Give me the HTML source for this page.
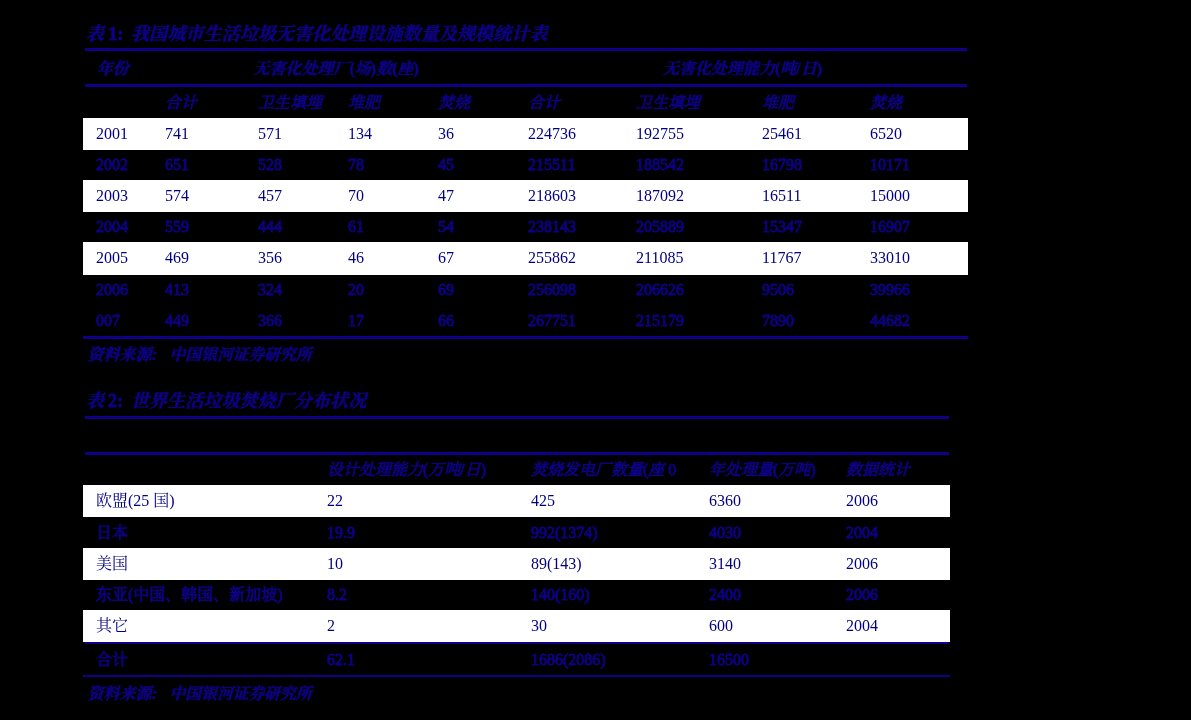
<!DOCTYPE html>
<html lang="zh-CN">
<head>
<meta charset="utf-8">
<title>表 1 / 表 2</title>
<style>
html,body{margin:0;padding:0;background:#000;}
body{width:1191px;height:720px;position:relative;overflow:hidden;
  font-family:"Liberation Serif","Noto Serif CJK SC",serif;font-size:16px;color:#0e0088;}
#page{position:absolute;left:0;top:0;width:1191px;height:720px;will-change:transform;}
.ci{font-style:italic;}
.rule{position:absolute;background:#100088;}
.row{position:absolute;left:83px;height:31px;line-height:31px;white-space:nowrap;}
.row.w{background:#fff;color:#000080;}
.row.d{-webkit-text-stroke:.8px #0e0088;}
.row>span{position:absolute;top:0;}
.t .n{-webkit-text-stroke-width:.8px;}
.t{position:absolute;white-space:nowrap;font-weight:bold;-webkit-text-stroke:.5px #0e0088;}
.a .c0{left:13px}.a .c1{left:82px}.a .c2{left:175px}.a .c3{left:265px}.a .c4{left:355px}
.a .c5{left:445px}.a .c6{left:553px}.a .c7{left:679px}.a .c8{left:787px}
.b .c0{left:13px}.b .c1{left:244px}.b .c2{left:448px}.b .c3{left:626px}.b .c4{left:763px}
</style>
</head>
<body>
<main id="page">
<!-- Table 1 -->
<div class="t" style="left:86px;top:22.5px;font-size:18px;line-height:22px;"><span class="ci">表</span><span class="n" style="margin-left:4.3px">1:</span><span style="margin-left:7.7px;font-size:18.12px"><span class="ci">我国城市生活垃圾无害化处理设施数量及规模统计表</span></span></div>
<div class="rule" style="left:85px;top:48px;width:882px;height:3px;"></div>
<div class="t" style="left:96.7px;top:58px;font-size:16px;line-height:22px;"><span class="ci">年份</span></div>
<div class="t" style="left:253.5px;top:58px;font-size:16px;line-height:22px;"><span class="ci">无害化处理厂</span>(<span class="ci">场</span>)<span class="ci">数</span>(<span class="ci">座</span>)</div>
<div class="t" style="left:663px;top:58px;font-size:16px;line-height:22px;"><span class="ci">无害化处理能力</span>(<span class="ci">吨</span>/<span class="ci">日</span>)</div>
<div class="rule" style="left:85px;top:84px;width:882px;height:3px;"></div>
<div class="row a d" style="top:87px;width:885px;height:31px;line-height:31px;"><span class="c1"><span class="ci">合计</span></span><span class="c2"><span class="ci">卫生填埋</span></span><span class="c3"><span class="ci">堆肥</span></span><span class="c4"><span class="ci">焚烧</span></span><span class="c5"><span class="ci">合计</span></span><span class="c6"><span class="ci">卫生填埋</span></span><span class="c7"><span class="ci">堆肥</span></span><span class="c8"><span class="ci">焚烧</span></span></div>
<div class="row a w" style="top:118px;width:885px;height:32px;line-height:32px;"><span class="c0">2001</span><span class="c1">741</span><span class="c2">571</span><span class="c3">134</span><span class="c4">36</span><span class="c5">224736</span><span class="c6">192755</span><span class="c7">25461</span><span class="c8">6520</span></div>
<div class="row a d" style="top:150px;width:885px;height:30px;line-height:30px;"><span class="c0">2002</span><span class="c1">651</span><span class="c2">528</span><span class="c3">78</span><span class="c4">45</span><span class="c5">215511</span><span class="c6">188542</span><span class="c7">16798</span><span class="c8">10171</span></div>
<div class="row a w" style="top:180px;width:885px;height:32px;line-height:32px;"><span class="c0">2003</span><span class="c1">574</span><span class="c2">457</span><span class="c3">70</span><span class="c4">47</span><span class="c5">218603</span><span class="c6">187092</span><span class="c7">16511</span><span class="c8">15000</span></div>
<div class="row a d" style="top:212px;width:885px;height:30px;line-height:30px;"><span class="c0">2004</span><span class="c1">559</span><span class="c2">444</span><span class="c3">61</span><span class="c4">54</span><span class="c5">238143</span><span class="c6">205889</span><span class="c7">15347</span><span class="c8">16907</span></div>
<div class="row a w" style="top:242px;width:885px;height:33px;line-height:32px;"><span class="c0">2005</span><span class="c1">469</span><span class="c2">356</span><span class="c3">46</span><span class="c4">67</span><span class="c5">255862</span><span class="c6">211085</span><span class="c7">11767</span><span class="c8">33010</span></div>
<div class="row a d" style="top:274px;width:885px;height:31px;line-height:31px;"><span class="c0">2006</span><span class="c1">413</span><span class="c2">324</span><span class="c3">20</span><span class="c4">69</span><span class="c5">256098</span><span class="c6">206626</span><span class="c7">9506</span><span class="c8">39966</span></div>
<div class="row a d" style="top:305px;width:885px;height:31px;line-height:31px;"><span class="c0">007</span><span class="c1">449</span><span class="c2">366</span><span class="c3">17</span><span class="c4">66</span><span class="c5">267751</span><span class="c6">215179</span><span class="c7">7890</span><span class="c8">44682</span></div>
<div class="rule" style="left:83px;top:336px;width:885px;height:3px;"></div>
<div class="t" style="left:87.5px;top:345px;font-size:16px;line-height:20px;"><span class="ci">资料来源</span><i style="margin-left:.5px">:</i><span style="margin-left:12.2px;font-size:15.8px"><span class="ci">中国银河证券研究所</span></span></div>
<!-- Table 2 -->
<div class="t" style="left:86px;top:390px;font-size:18px;line-height:22px;"><span class="ci">表</span><span class="n" style="margin-left:4px">2:</span><span style="margin-left:8px;font-size:18.1px"><span class="ci">世界生活垃圾焚烧厂分布状况</span></span></div>
<div class="rule" style="left:85px;top:416px;width:864px;height:3px;"></div>
<div class="rule" style="left:85px;top:452px;width:864px;height:3px;"></div>
<div class="row b d k" style="top:455px;width:867px;height:30px;line-height:30px;"><span class="c1"><span class="ci">设计处理能力</span>(<span class="ci">万吨</span>/<span class="ci">日</span>)</span><span class="c2"><span class="ci">焚烧发电厂数量</span>(<span class="ci">座</span> 0</span><span class="c3"><span class="ci">年处理量</span>(<span class="ci">万吨</span>)</span><span class="c4"><span class="ci">数据统计</span></span></div>
<div class="row b w" style="top:485px;width:867px;height:32px;line-height:32px;"><span class="c0">欧盟(25 国)</span><span class="c1">22</span><span class="c2">425</span><span class="c3">6360</span><span class="c4">2006</span></div>
<div class="row b d" style="top:517px;width:867px;height:31px;line-height:31px;"><span class="c0">日本</span><span class="c1">19.9</span><span class="c2">992(1374)</span><span class="c3">4030</span><span class="c4">2004</span></div>
<div class="row b w" style="top:548px;width:867px;height:32px;line-height:32px;"><span class="c0">美国</span><span class="c1">10</span><span class="c2">89(143)</span><span class="c3">3140</span><span class="c4">2006</span></div>
<div class="row b d" style="top:580px;width:867px;height:30px;line-height:30px;"><span class="c0">东亚(中国、韩国、新加坡)</span><span class="c1">8.2</span><span class="c2">140(160)</span><span class="c3">2400</span><span class="c4">2006</span></div>
<div class="rule" style="left:85px;top:641px;width:864px;height:3px;"></div>
<div class="row b w" style="top:610px;width:867px;height:31.5px;line-height:32px;"><span class="c0">其它</span><span class="c1">2</span><span class="c2">30</span><span class="c3">600</span><span class="c4">2004</span></div>
<div class="row b d" style="top:644px;width:867px;height:31px;line-height:31px;"><span class="c0">合计</span><span class="c1">62.1</span><span class="c2">1686(2086)</span><span class="c3">16500</span></div>
<div class="rule" style="left:83px;top:675px;width:867px;height:2px;"></div>
<div class="t" style="left:87.5px;top:683.5px;font-size:16px;line-height:20px;"><span class="ci">资料来源</span><i style="margin-left:.5px">:</i><span style="margin-left:12.2px;font-size:15.8px"><span class="ci">中国银河证券研究所</span></span></div>
</main>
</body>
</html>
